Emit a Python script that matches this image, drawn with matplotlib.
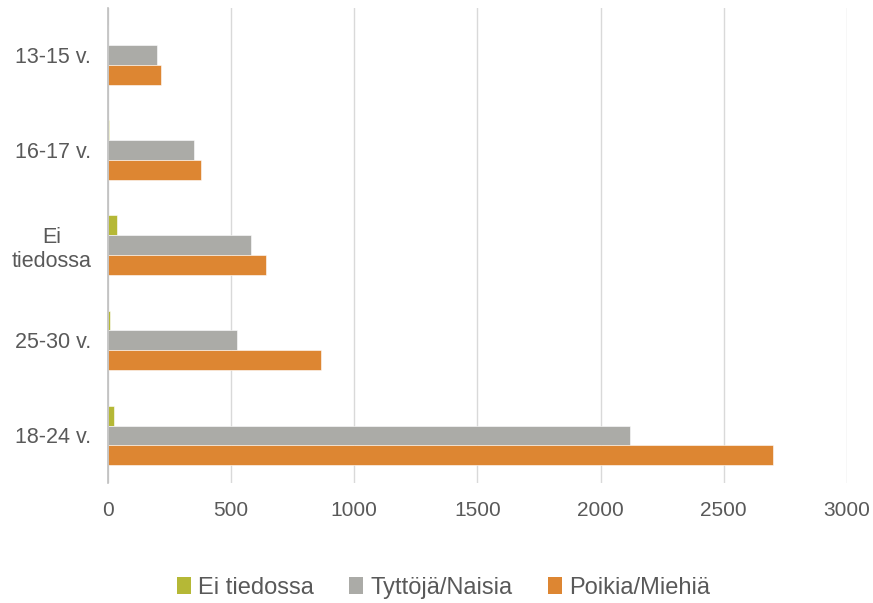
import numpy as np
import matplotlib
matplotlib.use('Agg')
from matplotlib import pyplot as plt

plt.rcParams['font.family'] = ['Liberation Sans', 'DejaVu Sans']

categories = ['13-15 v.', '16-17 v.', 'Ei\ntiedossa', '25-30 v.', '18-24 v.']
ei_tiedossa = [0, 3, 37, 9, 24]
tyttoja = [199, 350, 581, 524, 2120]
poikia = [215, 378, 642, 866, 2700]

series = ['Ei tiedossa', 'Tyttöjä/Naisia', 'Poikia/Miehiä']
colors = ['#B5B836', '#ABABA7', '#DD8632']
text_color = '#595959'

fig = plt.figure(figsize=(8.73, 6.03), dpi=100)
ax = fig.add_axes([0.1237, 0.199, 0.8463, 0.788])

y = np.arange(len(categories))
h = 0.21
for i, (vals, name, c) in enumerate(zip([ei_tiedossa, tyttoja, poikia], series, colors)):
    ax.barh(y + (i - 1) * h, vals, height=h, color=c, label=name,
            edgecolor='white', linewidth=0.4, zorder=3)

ax.set_ylim(len(categories) - 0.5, -0.5)
ax.set_xlim(0, 3000)
ax.set_xticks(np.arange(0, 3001, 500))
ax.set_yticks(y)
ax.set_yticklabels(categories, multialignment='center')

ax.grid(axis='x', color='#D9D9D9', linewidth=1, zorder=0)
for s in ['top', 'right', 'bottom']:
    ax.spines[s].set_visible(False)
ax.spines['left'].set_color('#BFBFBF')
ax.spines['left'].set_linewidth(1.2)
ax.spines['left'].set_zorder(4)
ax.tick_params(axis='both', length=0, colors=text_color)
ax.tick_params(axis='x', pad=13, labelsize=15)
ax.tick_params(axis='y', pad=12, labelsize=15.5)

leg = fig.legend(loc='center', bbox_to_anchor=(0.508, 0.025), ncol=3, frameon=False,
                 fontsize=17, labelcolor=text_color, handlelength=0.6, handleheight=0.75,
                 handletextpad=0.3, columnspacing=1.5)
for p in leg.get_patches():
    p.set_linewidth(0)

fig.savefig('out.png', dpi=100)
